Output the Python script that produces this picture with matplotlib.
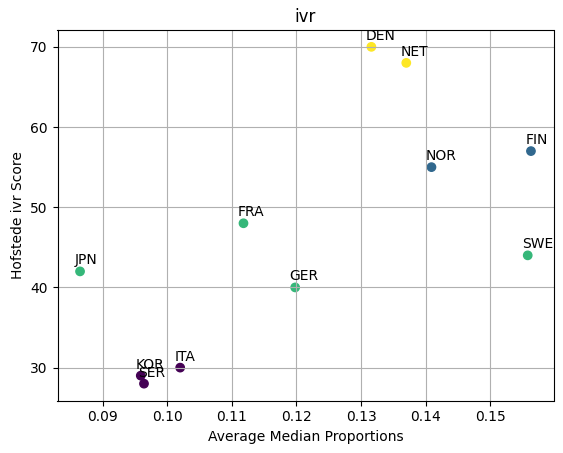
import numpy as np
import matplotlib
matplotlib.use('Agg')
import matplotlib.pyplot as plt

countries = ['JPN', 'KOR', 'SER', 'ITA', 'FRA', 'GER', 'DEN', 'NET', 'NOR', 'FIN', 'SWE']
median_props = [0.0865, 0.0959, 0.0964, 0.1020, 0.1118, 0.1198, 0.1316, 0.1370, 0.1409, 0.1563, 0.1558]
ivr_scores = [42, 29, 28, 30, 48, 40, 70, 68, 55, 57, 44]
clusters = [2, 0, 0, 0, 2, 2, 3, 3, 1, 1, 2]

fig = plt.figure(figsize=(5.63, 4.53), dpi=100)
ax = fig.add_axes([57.5 / 563, 1 - 400.5 / 453, 496 / 563, 370.5 / 453])

ax.scatter(median_props, ivr_scores, c=clusters, cmap='viridis')
for name, x, y in zip(countries, median_props, ivr_scores):
    ax.annotate(name, (x, y), textcoords='offset points', xytext=(-4, 5))

ax.set_title('ivr')
ax.set_xlabel('Average Median Proportions')
ax.set_ylabel('Hofstede ivr Score')
ax.grid(True)

fig.savefig('out.png', dpi=100)
